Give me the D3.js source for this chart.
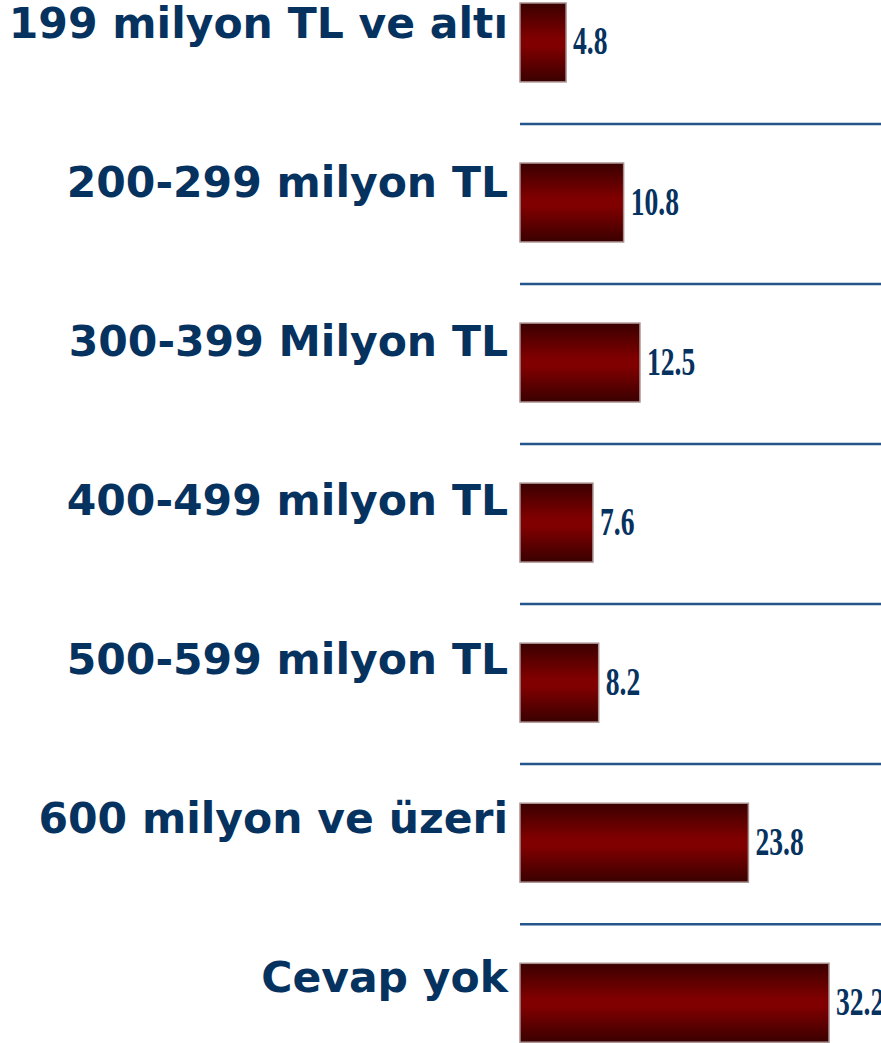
<!DOCTYPE html>
<html><head><meta charset="utf-8">
<script src="https://cdn.jsdelivr.net/npm/d3@7"></script>
<style>html,body{margin:0;padding:0;background:#fff;overflow:hidden}</style>
</head><body><svg id="c" width="881" height="1043"></svg>
<script>
const categories = ["199 milyon TL ve altı","200-299 milyon TL","300-399 Milyon TL","400-499 milyon TL","500-599 milyon TL","600 milyon ve üzeri","Cevap yok"];
const values = [4.8,10.8,12.5,7.6,8.2,23.8,32.2];

const svg = d3.select("#c");
const defs = svg.append("defs");
const g = defs.append("linearGradient").attr("id","bg").attr("x1",0).attr("y1",0).attr("x2",0).attr("y2",1);
g.append("stop").attr("offset","0%").attr("stop-color","#3a0000");
g.append("stop").attr("offset","45%").attr("stop-color","#800000");
g.append("stop").attr("offset","55%").attr("stop-color","#800000");
g.append("stop").attr("offset","100%").attr("stop-color","#3a0000");

const x = d3.scaleLinear().domain([0,32.2]).range([520,829]);
const y = d3.scaleBand().domain(categories).range([3,1042.2]).paddingInner(0.507).paddingOuter(0);
const yLabel = d3.scalePoint().domain(categories).range([37.5,992]);

// separators
svg.selectAll("line.sep").data(categories.slice(0,-1)).join("line")
  .attr("x1",520).attr("x2",881)
  .attr("y1",d=>y(d)+y.bandwidth()+42).attr("y2",d=>y(d)+y.bandwidth()+42)
  .attr("stroke","#24568a").attr("stroke-width",2.5);

svg.selectAll("rect.bar").data(values).join("rect")
  .attr("x",x(0)).attr("y",(d,i)=>y(categories[i]))
  .attr("width",d=>x(d)-x(0)).attr("height",y.bandwidth())
  .attr("fill","url(#bg)").attr("stroke","#a89090").attr("stroke-width",1.5);

svg.selectAll("text.cat").data(categories).join("text")
  .attr("x",508).attr("y",d=>yLabel(d))
  .attr("text-anchor","end")
  .attr("font-family","'DejaVu Sans', Verdana, sans-serif").attr("font-weight","bold")
  .attr("font-size",42.5).attr("fill","#06325f")
  .text(d=>d);

svg.selectAll("text.val").data(values).join("text")
  .attr("transform",(d,i)=>`translate(${x(d)+7},${y(categories[i])+y.bandwidth()/2+12}) scale(0.69,1)`)
  .attr("font-family","'Liberation Serif', 'Times New Roman', serif").attr("font-weight","bold")
  .attr("font-size",40).attr("fill","#06325f")
  .text(d=>d.toFixed(1));
</script></body></html>
